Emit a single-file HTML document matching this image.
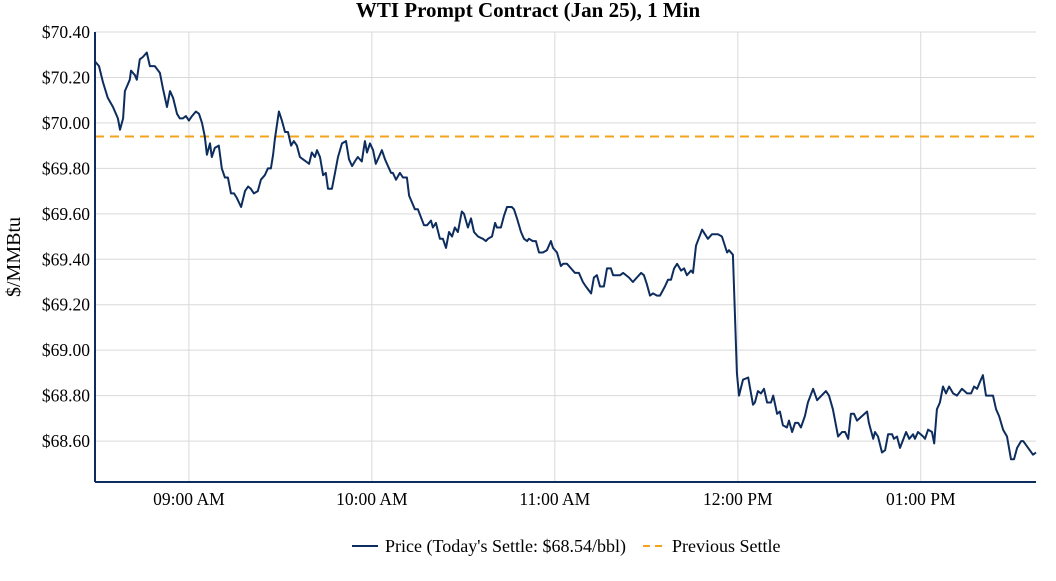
<!DOCTYPE html>
<html><head><meta charset="utf-8"><style>
body{margin:0;background:#fff;}
svg text{font-family:"Liberation Serif",serif;}
</style></head><body>
<svg id="chart" width="1056" height="576" xmlns="http://www.w3.org/2000/svg">
<text x="528" y="17" text-anchor="middle" font-size="21" font-weight="bold" fill="#000">WTI Prompt Contract (Jan 25), 1 Min</text>
<text transform="translate(20,257) rotate(-90)" text-anchor="middle" font-size="20" fill="#000">$/MMBtu</text>
<g id="grid"></g><g id="marks"></g><g id="axes"></g>
<g>
<line x1="352" y1="546" x2="378" y2="546" stroke="#0d2d5e" stroke-width="2"/>
<text x="385" y="552" font-size="18">Price (Today's Settle: $68.54/bbl)</text>
<line x1="643" y1="546" x2="667" y2="546" stroke="#f5a31a" stroke-width="2" stroke-dasharray="7,5"/>
<text x="672" y="552" font-size="18">Previous Settle</text>
</g>
</svg>
<script>
// minutes relative to 09:00
const times=[-30.8,-29.5,-28.2,-26.6,-24.9,-23.3,-22.6,-21.6,-21.0,-19.4,-19.0,-17.7,-17.1,-16.1,-15.1,-13.8,-12.8,-11.2,-9.5,-8.5,-7.2,-6.2,-5.2,-3.9,-3.0,-2.0,-1.0,0,1.0,2.3,3.3,4.3,5.2,5.9,6.9,7.5,8.5,9.8,10.8,11.8,12.8,13.8,14.8,15.7,17.1,18.4,19.4,20.3,21.3,22.6,23.6,24.9,25.9,26.9,27.6,28.2,29.5,30.5,31.5,32.5,33.5,34.4,35.4,36.4,37.4,38.4,39.4,40.3,41.3,42.0,43.0,44.0,44.9,45.6,46.9,47.9,48.9,50.2,51.5,52.5,53.5,54.4,55.4,56.7,57.7,58.4,59.4,60.4,61.3,62.3,63.3,64.3,65.3,66.3,66.9,67.9,
69.2,70.2,71.5,72.2,74.1,75.1,77.1,78.1,79.4,80.0,81.0,82.3,83.3,84.3,85.3,86.3,87.2,88.2,89.5,90.2,91.5,92.5,93.5,94.8,96.4,97.4,98.1,99.4,100.4,101.0,102.3,103.3,104.3,105.9,106.6,107.6,108.9,109.9,110.9,111.5,112.8,113.8,114.8,116.1,117.4,118.7,119.4,120.7,122.0,122.7,124.0,125.3,126.6,127.9,129.2,130.2,131.9,132.8,133.8,134.8,136.1,137.1,138.4,139.1,141.4,142.4,144.3,145.6,146.9,148.3,149.2,150.2,151.2,152.2,153.5,154.5,156.1,157.1,158.1,159.1,160.1,161.4,162.4,163.3,164.7,165.3,166.3,168.3,170.2,171.5,173.5,174.8,176.5,177.1,178.4,
179.7,180.4,181.7,183.4,185.0,185.6,186.6,187.6,188.6,189.6,190.9,191.6,192.9,193.8,194.8,196.1,196.8,197.8,198.8,199.8,200.7,202.0,203.0,204.7,206.0,208.9,209.9,211.2,212.9,214.2,215.2,216.2,217.1,218.1,219.1,222.4,223.0,224.4,225.0,226.0,227.3,228.3,229.3,230.6,231.2,232.2,233.2,235.2,236.2,237.5,238.1,239.1,240.8,241.4,242.4,243.7,244.4,245.3,246.3,247.3,248.3,249.3,250.6,251.9,253.5,255.2,256.5,257.5,258.5,259.4,260.4,261.4,263.7,264.7,265.7,267.0,268.3,269.6,270.6,271.6,272.9,273.6,276.8,277.8];
const prices=[70.27,70.25,70.18,70.11,70.07,70.02,69.97,70.02,70.14,70.19,70.23,70.21,70.19,70.28,70.29,70.31,70.25,70.25,70.22,70.15,70.07,70.14,70.11,70.04,70.02,70.02,70.03,70.01,70.03,70.05,70.04,70.00,69.94,69.86,69.91,69.85,69.89,69.90,69.80,69.76,69.76,69.69,69.69,69.67,69.63,69.70,69.72,69.71,69.69,69.70,69.75,69.77,69.80,69.80,69.86,69.93,70.05,70.01,69.96,69.96,69.90,69.92,69.90,69.85,69.84,69.83,69.82,69.87,69.85,69.88,69.85,69.77,69.78,69.71,69.71,69.78,69.85,69.91,69.92,69.84,69.81,69.83,69.85,69.83,69.92,69.87,69.91,69.88,69.82,69.85,69.88,69.84,69.81,69.78,69.78,69.75,
69.78,69.76,69.76,69.68,69.62,69.62,69.55,69.55,69.57,69.54,69.56,69.49,69.49,69.45,69.52,69.50,69.54,69.52,69.61,69.60,69.54,69.58,69.52,69.50,69.49,69.48,69.49,69.50,69.56,69.54,69.54,69.59,69.63,69.63,69.62,69.58,69.52,69.49,69.48,69.49,69.48,69.48,69.43,69.43,69.44,69.48,69.45,69.43,69.37,69.38,69.38,69.36,69.34,69.34,69.30,69.28,69.25,69.32,69.33,69.28,69.28,69.36,69.36,69.33,69.33,69.34,69.32,69.30,69.32,69.34,69.33,69.29,69.24,69.25,69.24,69.24,69.28,69.31,69.31,69.36,69.38,69.35,69.36,69.33,69.35,69.34,69.46,69.53,69.49,69.51,69.51,69.50,69.43,69.44,69.42,
68.90,68.80,68.87,68.88,68.76,68.77,68.82,68.81,68.83,68.77,68.77,68.80,68.72,68.73,68.67,68.66,68.69,68.64,68.68,68.68,68.66,68.71,68.77,68.83,68.78,68.82,68.80,68.74,68.62,68.64,68.64,68.61,68.72,68.72,68.69,68.73,68.68,68.61,68.64,68.62,68.55,68.56,68.63,68.63,68.61,68.62,68.57,68.64,68.61,68.63,68.61,68.64,68.62,68.61,68.65,68.64,68.59,68.74,68.77,68.84,68.81,68.84,68.81,68.80,68.83,68.81,68.81,68.84,68.83,68.86,68.89,68.80,68.80,68.74,68.71,68.65,68.62,68.52,68.52,68.57,68.60,68.60,68.54,68.55];
const previousSettle=69.94;
const yTicks=[70.40,70.20,70.00,69.80,69.60,69.40,69.20,69.00,68.80,68.60];
const xTicks=[0,60,120,180,240];
const xTickLabels=["09:00 AM","10:00 AM","11:00 AM","12:00 PM","01:00 PM"];

const L=95,R=1036,T=32,B=482;
const xMin=-30.8,xMax=277.8,yTop=70.40,yBot=68.42;
const xs=t=>L+(t-xMin)/(xMax-xMin)*(R-L);
const ys=v=>T+(yTop-v)/(yTop-yBot)*(B-T);
const NS="http://www.w3.org/2000/svg";
function mk(tag,attrs,parent){const e=document.createElementNS(NS,tag);for(const k in attrs)e.setAttribute(k,attrs[k]);parent.appendChild(e);return e;}
const grid=document.getElementById('grid'),marks=document.getElementById('marks'),axes=document.getElementById('axes');
yTicks.forEach(v=>{
  const y=ys(v);
  const g=mk('line',{x1:L,x2:R,y1:y,y2:y,stroke:'#d9d9d9','stroke-width':1},grid);
  
  
  const t=mk('text',{x:90,y:y+6,'text-anchor':'end','font-size':17.5,fill:'#000'},axes);
  t.textContent='$'+v.toFixed(2);
  
  
});
xTicks.forEach((m,i)=>{
  const x=xs(m);
  const g=mk('line',{x1:x,x2:x,y1:T,y2:B,stroke:'#d9d9d9','stroke-width':1},grid);
  
  
  const t=mk('text',{x:x,y:505,'text-anchor':'middle','font-size':17.5,fill:'#000'},axes);
  t.textContent=xTickLabels[i];
  
  
});
const ps=mk('line',{x1:L,x2:R,y1:ys(previousSettle),y2:ys(previousSettle),stroke:'#f5a31a','stroke-width':2,'stroke-dasharray':'9,6'},marks);


const d=times.map((t,i)=>(i?'L':'M')+xs(t).toFixed(1)+','+ys(prices[i]).toFixed(1)).join('');
const pl=mk('path',{d:d,fill:'none',stroke:'#0d2d5e','stroke-width':2,'stroke-linejoin':'round'},marks);


const ya=mk('line',{x1:L,x2:L,y1:T,y2:B,stroke:'#0d2d5e','stroke-width':2},axes);


const xa=mk('line',{x1:L,x2:R,y1:B,y2:B,stroke:'#0d2d5e','stroke-width':2},axes);


</script>
</body></html>
